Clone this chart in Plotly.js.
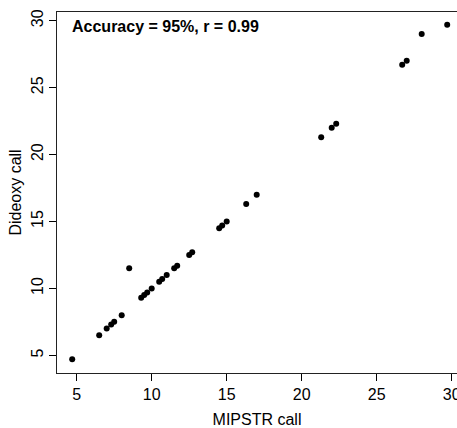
<!DOCTYPE html>
<html>
<head>
<meta charset="utf-8">
<script src="https://cdn.plot.ly/plotly-3.0.1.min.js"></script>
<style>html,body{margin:0;padding:0;background:#fff;}#chart{width:457px;height:428px;}</style>
</head>
<body>
<div id="chart"></div>
<script>
var mipstrCall = [4.7, 6.5, 7.0, 7.3, 7.5, 8.0, 8.5, 9.3, 9.5, 9.7, 10.0, 10.5, 10.7, 11.0, 11.5, 11.7, 12.5, 12.7, 14.5, 14.7, 15.0, 16.3, 17.0, 21.3, 22.0, 22.3, 26.7, 27.0, 28.0, 29.7];
var dideoxyCall = [4.7, 6.5, 7.0, 7.3, 7.5, 8.0, 11.5, 9.3, 9.5, 9.7, 10.0, 10.5, 10.7, 11.0, 11.5, 11.7, 12.5, 12.7, 14.5, 14.7, 15.0, 16.3, 17.0, 21.3, 22.0, 22.3, 26.7, 27.0, 29.0, 29.7];
var tickValues = [5, 10, 15, 20, 25, 30];
var annotationText = "Accuracy = 95%, r = 0.99";

var font = {family: "Liberation Sans, Arial, sans-serif", size: 16, color: "#000"};

var trace = {
  x: mipstrCall,
  y: dideoxyCall,
  mode: "markers",
  type: "scatter",
  marker: {color: "#000", size: 6},
  hoverinfo: "x+y"
};

var layout = {
  width: 457,
  height: 428,
  margin: {l: 57, r: 0, t: 12, b: 55},
  paper_bgcolor: "#fff",
  plot_bgcolor: "#fff",
  font: font,
  showlegend: false,
  xaxis: {
    range: [3.687, 30.353],
    tickvals: tickValues,
    ticktext: tickValues.map(String),
    ticks: "outside",
    ticklen: 7,
    tickwidth: 1,
    tickcolor: "#000",
    ticklabeloverflow: "allow",
    showline: true,
    linecolor: "#222",
    linewidth: 1,
    mirror: true,
    showgrid: false,
    zeroline: false,
    tickfont: font,
    title: {text: "MIPSTR call", font: font, standoff: 14}
  },
  yaxis: {
    range: [3.68, 30.65],
    tickvals: tickValues,
    ticktext: tickValues.map(String),
    tickangle: -90,
    ticks: "outside",
    ticklen: 7,
    tickwidth: 1,
    tickcolor: "#000",
    showline: true,
    linecolor: "#222",
    linewidth: 1,
    mirror: false,
    showgrid: false,
    zeroline: false,
    tickfont: font,
    title: {text: "Dideoxy call", font: font, standoff: 2}
  },
  annotations: [{
    text: "<b>" + annotationText + "</b>",
    xref: "paper", yref: "paper",
    x: 0.0325, y: 0.961,
    xanchor: "left", yanchor: "middle",
    showarrow: false,
    font: {family: "Liberation Sans, Arial, sans-serif", size: 16, color: "#000"}
  }]
};

Plotly.newPlot("chart", [trace], layout, {displayModeBar: false, staticPlot: true});
</script>
</body>
</html>
